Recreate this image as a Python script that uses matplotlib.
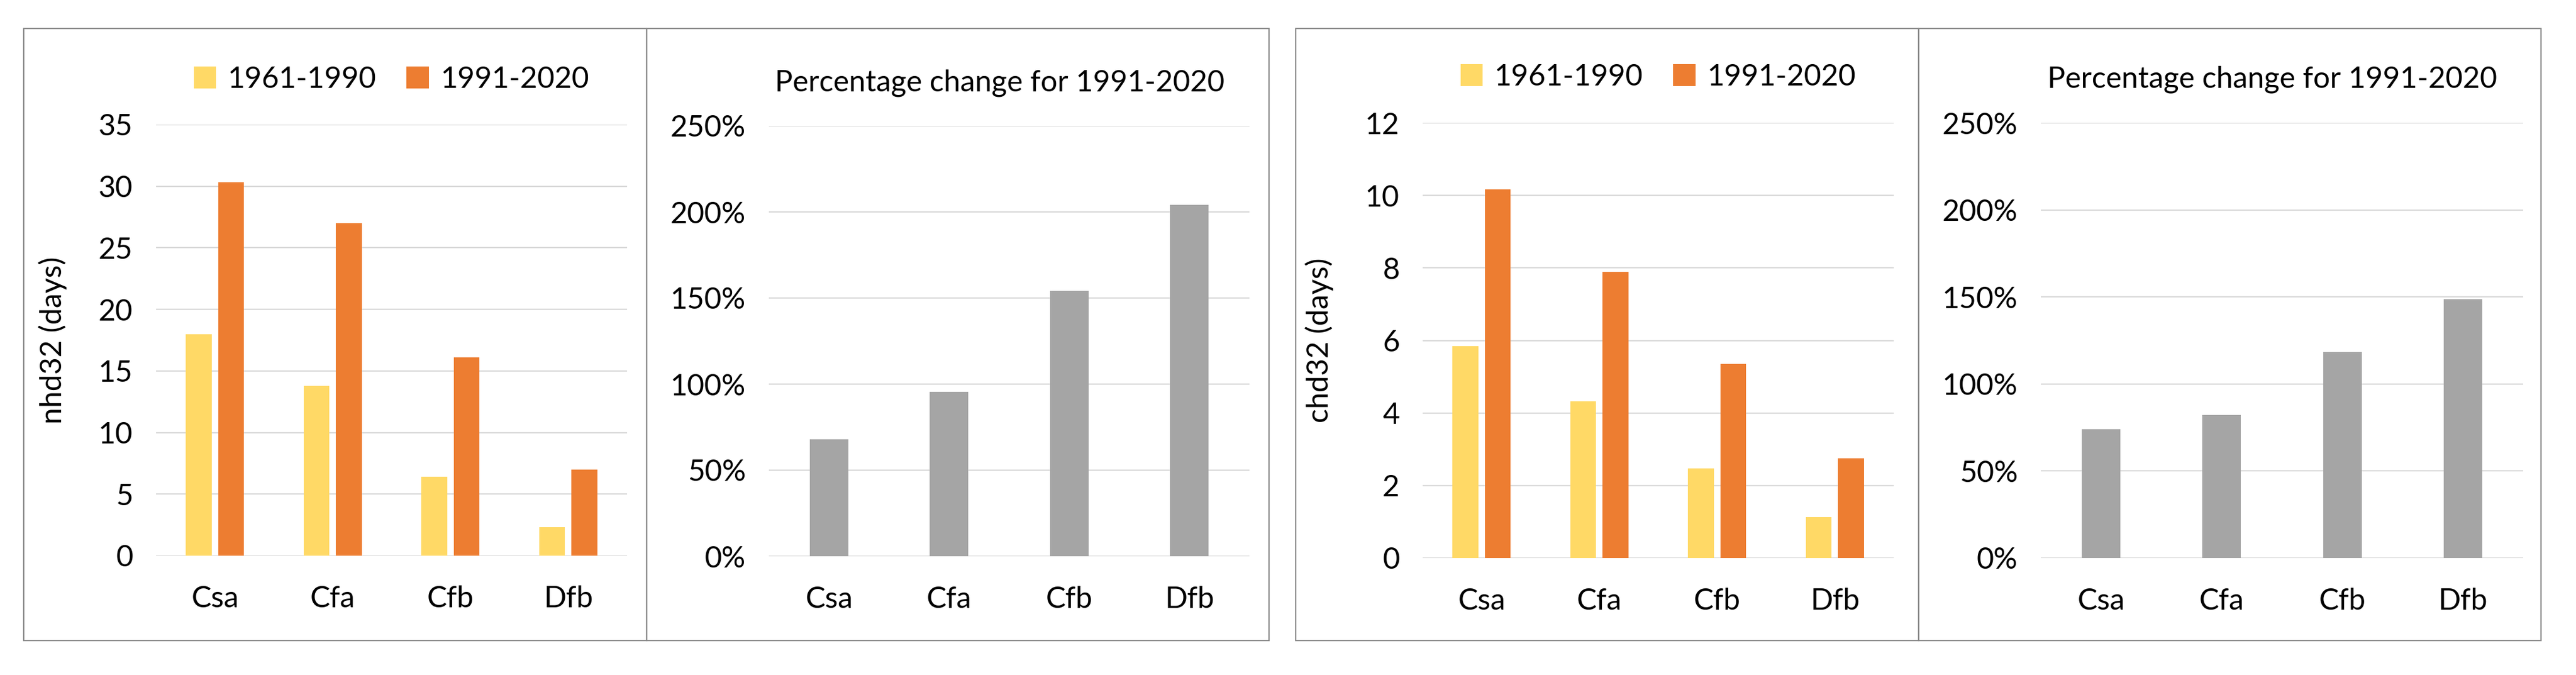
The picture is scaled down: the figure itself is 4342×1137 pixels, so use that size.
import numpy as np
import matplotlib.pyplot as plt
from matplotlib.patches import Rectangle
from matplotlib.ticker import PercentFormatter

plt.rcParams['font.family'] = ['Lato', 'DejaVu Sans']

zones = ['Csa', 'Cfa', 'Cfb', 'Dfb']
periods = ['1961-1990', '1991-2020']

nhd_old = [18.0, 13.8, 6.4, 2.3]
nhd_new = [30.3, 27.0, 16.1, 7.0]
nhd_pct = [68, 95.5, 154, 204]

chd_old = [5.85, 4.32, 2.47, 1.13]
chd_new = [10.16, 7.89, 5.35, 2.75]
chd_pct = [74, 82.3, 118.2, 148.6]

yellow = '#FFD966'
orange = '#ED7D31'
grey = '#A5A5A5'
gridc = '#D9D9D9'
fs = 36

W, H = 4342, 1137
fig = plt.figure(figsize=(W / 100, H / 100), dpi=100)

# panel frames (pixels)
for x0, x1 in [(40, 1090), (1090, 2139), (2184, 3234), (3234, 4283)]:
    fig.patches.append(Rectangle((x0 / W, 1 - 1079 / H), (x1 - x0) / W, (1079 - 48) / H,
                                 transform=fig.transFigure, fill=False,
                                 edgecolor='#898989', linewidth=1.6, zorder=0))


def make_ax(x0, x1, ytop, ybot):
    return fig.add_axes([x0 / W, 1 - ybot / H, (x1 - x0) / W, (ybot - ytop) / H])


def style(ax):
    for s in ax.spines.values():
        s.set_visible(False)
    ax.set_axisbelow(True)
    ax.yaxis.grid(True, color=gridc, linewidth=1.6)
    ax.tick_params(length=0, labelsize=fs, pad=28)
    ax.tick_params(axis='x', pad=36)
    ax.set_xlim(-0.5, 3.5)
    ax.set_xticks(np.arange(len(zones)))
    ax.set_xticklabels(zones)


def pair(ax, old, new, ymax, step, label):
    x = np.arange(len(zones))
    ax.bar(x - 0.138, old, width=0.22, color=yellow, label=periods[0])
    ax.bar(x + 0.138, new, width=0.22, color=orange, label=periods[1])
    style(ax)
    ax.set_ylim(0, ymax)
    ax.set_yticks(np.arange(0, ymax + step / 2, step))
    ax.set_ylabel(label, fontsize=fs, labelpad=38)
    ax.legend(loc='center', bbox_to_anchor=(0.5, 1.105), ncol=2, frameon=False,
              fontsize=fs, handlelength=0.75, handleheight=0.75, handletextpad=0.4,
              columnspacing=1.0, borderaxespad=0)


def pct(ax, vals):
    x = np.arange(len(zones))
    ax.bar(x, vals, width=0.32, color=grey)
    style(ax)
    ax.set_ylim(0, 250)
    ax.set_yticks(np.arange(0, 251, 50))
    ax.yaxis.set_major_formatter(PercentFormatter(decimals=0))
    ax.text(0.48, 1.10, 'Percentage change for 1991-2020', transform=ax.transAxes,
            ha='center', va='center', fontsize=fs)


ax1 = make_ax(263, 1057, 210, 936)
pair(ax1, nhd_old, nhd_new, 35, 5, 'nhd32 (days)')
ax2 = make_ax(1296, 2106, 212, 937)
pct(ax2, nhd_pct)
ax3 = make_ax(2398, 3192, 207, 940)
pair(ax3, chd_old, chd_new, 12, 2, 'chd32 (days)')
ax4 = make_ax(3440, 4253, 207, 940)
pct(ax4, chd_pct)

fig.savefig('out.png', dpi=100, facecolor='white')
